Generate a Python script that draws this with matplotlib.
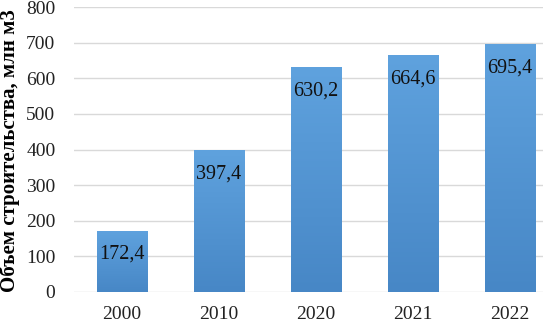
import numpy as np
import matplotlib.pyplot as plt
from matplotlib.colors import LinearSegmentedColormap

# данные
years = ['2000', '2010', '2020', '2021', '2022']
values = [172.4, 397.4, 630.2, 664.6, 695.4]
labels = ['172,4', '397,4', '630,2', '664,6', '695,4']
yticks = [0, 100, 200, 300, 400, 500, 600, 700, 800]

plt.rcParams['font.family'] = ['Liberation Serif', 'DejaVu Serif']

fig = plt.figure(figsize=(5.43, 3.23), dpi=100)
# правый край оси выходит за пределы рисунка, как на оригинале
ax = fig.add_axes([73.5 / 543, 31 / 323, 485 / 543, 285 / 323])

x = np.arange(len(years))
w = 0.52
bars = ax.bar(x, values, width=w, color='#5B9BD5', zorder=2)

# градиентная заливка столбиков
cmap = LinearSegmentedColormap.from_list('g', ['#4787c6', '#5fa2de'])
grad = np.linspace(0, 1, 256).reshape(-1, 1)
for b in bars:
    bx, by = b.get_x(), b.get_y()
    bw, bh = b.get_width(), b.get_height()
    # тень
    ax.bar(bx + bw / 2 + 0.012, bh, width=bw, bottom=-3, color='#b8c4d0',
           alpha=0.5, zorder=1.5)
    im = ax.imshow(grad, extent=[bx, bx + bw, by, by + bh], origin='lower',
                   cmap=cmap, aspect='auto', zorder=2.1)
    im.set_clip_path(b)

for xi, v, lab in zip(x, values, labels):
    ax.annotate(lab, (xi, v), xytext=(0, -10), textcoords='offset points',
                ha='center', va='top', fontsize=14.5, color='#111111', zorder=3)

ax.set_xlim(-0.5, 4.5)
ax.set_ylim(0, 800)
ax.set_yticks(yticks)
ax.set_xticks(x)
ax.set_xticklabels(years)
ax.tick_params(axis='both', length=0, labelsize=14, colors='#222222')
ax.tick_params(axis='x', pad=10)
ax.tick_params(axis='y', pad=13)
ax.yaxis.grid(True, color='#d9d9d9', linewidth=1, zorder=0)
ax.set_axisbelow(True)
for s in ax.spines.values():
    s.set_visible(False)

ax.set_ylabel('Объем строительства, млн м3', fontsize=15, fontweight='bold')
ax.yaxis.set_label_coords(-0.111, 0.4965)

fig.savefig('out.png', dpi=100)
